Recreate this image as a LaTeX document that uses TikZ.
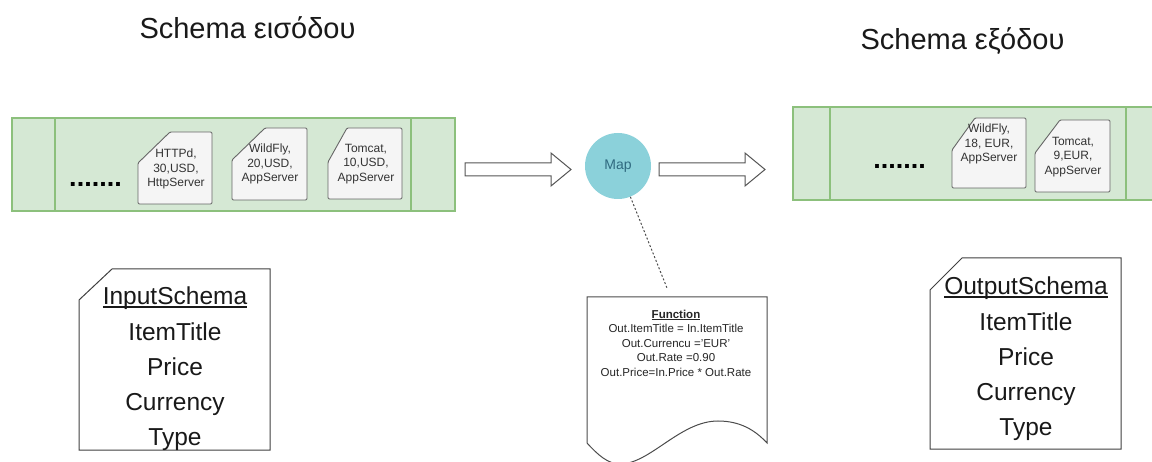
\documentclass[tikz,border=0pt]{standalone}
\usepackage{fontspec}
\setmainfont{Liberation Sans}
\definecolor{bandfill}{HTML}{D5E8D4}
\definecolor{bandline}{HTML}{8CC07C}
\definecolor{cardfill}{HTML}{F5F5F5}
\definecolor{cardline}{HTML}{666666}
\definecolor{cardtextc}{HTML}{333333}
\definecolor{mapfill}{HTML}{8BD1DA}
\definecolor{maptext}{HTML}{2F6A80}
\definecolor{arrowline}{HTML}{555555}
\newcommand\myul[3]{\setbox0\hbox{#3}\rlap{\rule[-#1]{\wd0}{#2}}\box0}
\begin{document}
\begin{tikzpicture}[x=1pt,y=-1pt,
  band/.style={fill=bandfill,draw=bandline,line width=1.3pt},
  bandsep/.style={draw=bandline,line width=1.3pt},
  card/.style={fill=cardfill,draw=cardline,line width=0.9pt,rounded corners=1.2pt},
  cardtext/.style={align=center,text=cardtextc,inner sep=0pt,font=\fontsize{12}{14.5}\selectfont},
  dotsline/.style={inner sep=0pt,anchor=base,font=\bfseries\fontsize{27}{30}\selectfont},
  titletext/.style={inner sep=0pt,anchor=base,font=\fontsize{29}{32}\selectfont,text=black!90},
  schemabox/.style={fill=white,draw=black!75,line width=1pt},
  schematext/.style={align=center,inner sep=0pt,text=black!90,font=\fontsize{24.5}{35.3}\selectfont},
  hollowarrow/.style={fill=white,draw=arrowline,line width=1pt,line join=miter},
  mapnode/.style={circle,fill=mapfill,minimum size=66pt,inner sep=0pt,text=maptext,font=\fontsize{14}{16}\selectfont},
  docshape/.style={fill=white,draw=black!70,line width=1pt},
  functext/.style={align=center,inner sep=0pt,text=black!85,font=\fontsize{11.5}{14.5}\selectfont},
  dottedlink/.style={draw=black!70,line width=1pt,dash pattern=on 2pt off 2pt}
]
\useasboundingbox (0,0) rectangle (1152,462);

% titles
\node[titletext] (title1) at (247.5,39) {Schema εισόδου};
\node[titletext] (title2) at (962.5,50) {Schema εξόδου};

% left band (input queue)
\draw[band] (12,118) rectangle (455,211);
\draw[bandsep] (55,118) -- (55,211);
\draw[bandsep] (411,118) -- (411,211);
\node[dotsline] (dotsL) at (95.5,187) {.......};

\draw[card] (170,132) -- (212,132) -- (212,204) -- (138,204) -- (138,163) -- cycle;
\node[cardtext] (c1) at (176,169) {HTTPd,\\30,USD,\\HttpServer};
\draw[card] (265,128) -- (307,128) -- (307,200) -- (232,200) -- (232,160) -- cycle;
\node[cardtext] (c2) at (270,164) {WildFly,\\20,USD,\\AppServer};
\draw[card] (347,128) -- (402,128) -- (402,199) -- (328,199) -- (328,162) -- cycle;
\node[cardtext] (c3) at (366,164) {Tomcat,\\10,USD,\\AppServer};

% right band (output queue)
\draw[band] (793,107) rectangle (1175,200);
\draw[bandsep] (830,107) -- (830,200);
\draw[bandsep] (1126,107) -- (1126,200);
\node[dotsline] (dotsR) at (899.5,169) {.......};

\draw[card] (975,118) -- (1026,118) -- (1026,188) -- (952,188) -- (952,150) -- cycle;
\node[cardtext] (c4) at (989,144) {WildFly,\\18, EUR,\\AppServer};
\draw[card] (1060,120) -- (1110,120) -- (1110,192) -- (1035,192) -- (1035,153) -- cycle;
\node[cardtext] (c5) at (1073,157) {Tomcat,\\9,EUR,\\AppServer};

% hollow arrows
\draw[hollowarrow] (465,163) -- (551,163) -- (551,153) -- (571,169.5) -- (551,186) -- (551,176) -- (465,176) -- cycle;
\draw[hollowarrow] (659,163) -- (745,163) -- (745,153) -- (765,169.5) -- (745,186) -- (745,176) -- (659,176) -- cycle;

% map
\node[mapnode] (map) at (618,166) {Map};

% function document
\draw[docshape] (587,297) -- (767,297) -- (767,443)
  .. controls (755,430) and (740,421) .. (718,421)
  .. controls (680,421) and (650,464) .. (620,464)
  .. controls (608,464) and (598,455) .. (587,443) -- cycle;
\node[functext] (func) at (676,343) {\myul{1.8pt}{0.8pt}{\textbf{Function}}\\Out.ItemTitle = In.ItemTitle\\Out.Currencu ='EUR'\\Out.Rate =0.90\\Out.Price=In.Price * Out.Rate};
\coordinate (fend) at (667,288);
\draw[dottedlink] (map) -- (fend);

% schema boxes
\draw[schemabox] (112,269) -- (270,269) -- (270,450) -- (79,450) -- (79,300) -- cycle;
\node[schematext] (inschema) at (175,369) {\myul{3pt}{1.3pt}{InputSchema}\\ItemTitle\\Price\\Currency\\Type};
\draw[schemabox] (962,258) -- (1121,258) -- (1121,449) -- (930,449) -- (930,290) -- cycle;
\node[schematext] (outschema) at (1026,359) {\myul{3pt}{1.3pt}{OutputSchema}\\ItemTitle\\Price\\Currency\\Type};
\end{tikzpicture}
\end{document}
